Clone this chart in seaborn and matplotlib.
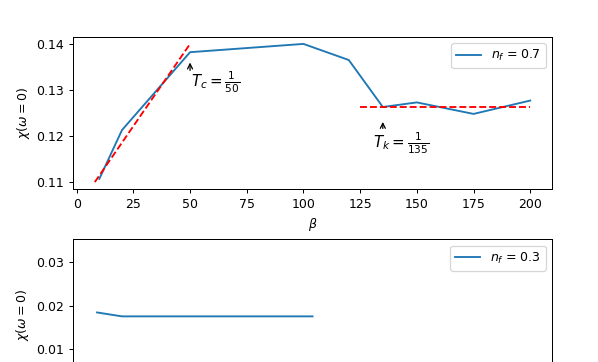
import numpy as np
import pandas as pd
import matplotlib
matplotlib.use("Agg")
import matplotlib.pyplot as plt
import seaborn as sns

# n_f = 0.7 susceptibility vs beta
beta_07 = [10, 20, 50, 100, 120, 135, 150, 175, 200]
chi_07 = [0.1107, 0.1213, 0.1382, 0.1400, 0.1365, 0.1263, 0.1273, 0.1248, 0.1277]

# linear fit below T_c and plateau below T_k
fit_beta = [8, 50]
fit_chi = [0.110, 0.140]
plateau_beta = [125, 200]
plateau_chi = [0.1263, 0.1263]

# n_f = 0.3 (only the visible part)
beta_03 = [9, 20, 104]
chi_03 = [0.0185, 0.0176, 0.0176]

DPI = 90
fig = plt.figure(figsize=(598 / DPI, 362 / DPI), dpi=DPI)
ax1 = fig.add_axes([0.1221, 0.4779, 0.8010, 0.4199])
ax2 = fig.add_axes([0.1221, -0.0809, 0.8010, 0.4199])

df07 = pd.DataFrame({'beta': beta_07, 'chi': chi_07})
sns.lineplot(data=df07, x='beta', y='chi', ax=ax1, label=r'$n_f$ = 0.7')
ax1.plot(fit_beta, fit_chi, 'r--')
ax1.plot(plateau_beta, plateau_chi, 'r--')

ax1.annotate('', xy=(50, 0.1365), xytext=(50, 0.1337),
             arrowprops=dict(arrowstyle='->', color='black'))
ax1.text(50.6, 0.1307, r'$T_c=\frac{1}{50}$', fontsize=12)
ax1.annotate('', xy=(135, 0.1236), xytext=(135, 0.1211),
             arrowprops=dict(arrowstyle='->', color='black'))
ax1.text(130.8, 0.1175, r'$T_k=\frac{1}{135}$', fontsize=12)

ax1.set_xlabel(r'$\beta$')
ax1.set_ylabel(r'$\chi(\omega=0)$')
ax1.set_yticks([0.11, 0.12, 0.13, 0.14])
ax1.legend(loc='upper right')

df03 = pd.DataFrame({'beta': beta_03, 'chi': chi_03})
sns.lineplot(data=df03, x='beta', y='chi', ax=ax2, label=r'$n_f$ = 0.3')
ax2.set_xlim(ax1.get_xlim())
ax2.set_ylim(0.0004, 0.0353)
ax2.set_yticks([0.01, 0.02, 0.03])
# the lower part of this panel falls outside the picture
ax2.tick_params(axis='x', labelbottom=False)
ax2.set_xlabel('')
ax2.set_ylabel(r'$\chi(\omega=0)$')
ax2.legend(loc='upper right')

fig.savefig('out.png', dpi=DPI)
